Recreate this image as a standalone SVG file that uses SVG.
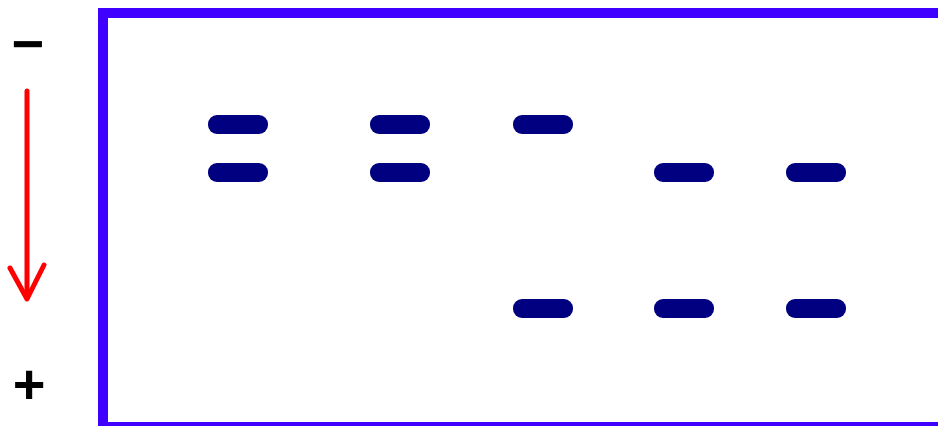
<svg xmlns="http://www.w3.org/2000/svg" width="938" height="426" viewBox="0 0 938 426">
<style>
.band{fill:#000080}
.sign{font-family:"Liberation Sans",Arial,sans-serif;font-weight:bold;font-size:56px;fill:#000;text-anchor:middle}
.arrow{fill:none;stroke:#FF0000;stroke-width:5;stroke-linecap:round;stroke-linejoin:round}
</style>
<rect width="938" height="426" fill="#fff"/>
<g id="gel">
<rect x="103" y="13" width="850" height="414" fill="none" stroke="#3F00FF" stroke-width="10"/>
</g>
<g id="lane1">
<rect class="band" x="208" y="115" width="60" height="19" rx="9"/>
<rect class="band" x="208" y="163" width="60" height="19" rx="9"/>
</g>
<g id="lane2">
<rect class="band" x="370" y="115" width="60" height="19" rx="9"/>
<rect class="band" x="370" y="163" width="60" height="19" rx="9"/>
</g>
<g id="lane3">
<rect class="band" x="513" y="115" width="60" height="19" rx="9"/>
<rect class="band" x="513" y="299" width="60" height="19" rx="9"/>
</g>
<g id="lane4">
<rect class="band" x="654" y="163" width="60" height="19" rx="9"/>
<rect class="band" x="654" y="299" width="60" height="19" rx="9"/>
</g>
<g id="lane5">
<rect class="band" x="786" y="163" width="60" height="19" rx="9"/>
<rect class="band" x="786" y="299" width="60" height="19" rx="9"/>
</g>
<g id="labels">
<text class="sign" x="28" y="63">−</text>
<text class="sign" x="29" y="403">+</text>
</g>
<g id="connectors">
<line class="arrow" x1="27" y1="91" x2="27" y2="298"/>
<polyline class="arrow" points="10,268 27,299 44,265"/>
</g>
</svg>
